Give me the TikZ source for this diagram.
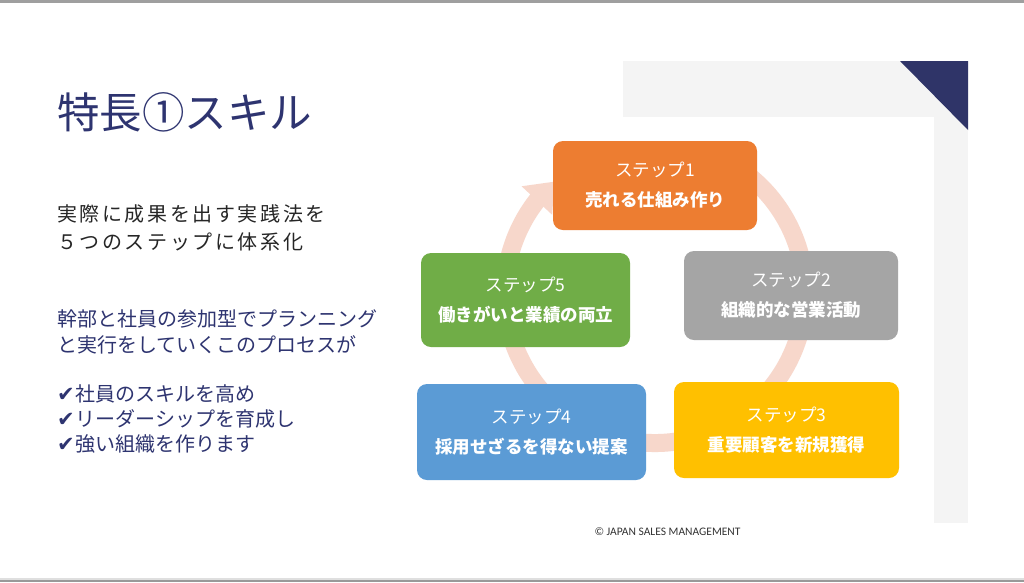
\documentclass[tikz,border=0pt]{standalone}
\usepackage{fontspec}
\usetikzlibrary{arrows.meta,bending,calc}
\newfontfamily\jp{Noto Sans CJK JP}
\newfontfamily\jpsp[LetterSpace=13]{Noto Sans CJK JP}
\newfontfamily\dejavu{DejaVu Sans}
\newfontfamily\carl{Carlito}
\definecolor{navy}{HTML}{2E3470}
\definecolor{darktxt}{HTML}{262626}
\definecolor{bandgray}{HTML}{F4F4F4}
\definecolor{cornernavy}{HTML}{2F3468}
\definecolor{arcpink}{HTML}{F7D7CB}
\definecolor{c1}{HTML}{ED7D31}
\definecolor{c2}{HTML}{A5A5A5}
\definecolor{c3}{HTML}{FFC000}
\definecolor{c4}{HTML}{5B9BD5}
\definecolor{c5}{HTML}{70AD47}
\tikzset{
  stepbox/.style={rounded corners=10pt, inner sep=0pt, text=white, align=center,
    font=\jp\fontsize{17.5}{30}\selectfont},
  bodyline/.style={anchor=base west, inner sep=0pt, font=\jp\fontsize{20}{24}\selectfont, text=navy},
  cyclearc/.style={draw=arcpink, line width=18pt,
    -{Triangle[width=40pt,length=26pt,color=arcpink]}}
}
\newcommand{\chk}{{\dejavu\fontsize{21}{22}\selectfont ✔}\hspace{1pt}}
\newcommand{\sline}[1]{{\bfseries #1}}
\begin{document}
\begin{tikzpicture}[x=1pt,y=-1pt]
\useasboundingbox (0,0) rectangle (1024,582);
\fill[white] (0,0) rectangle (1024,582);
% frame bars
\fill[gray!75] (0,0) rectangle (1024,3);
\fill[gray!25] (0,578) rectangle (1024,580);
\fill[gray!80] (0,580) rectangle (1024,582);
% light gray L band and corner triangle
\fill[bandgray] (623,61) rectangle (968,117);
\fill[bandgray] (934,61) rectangle (968,523);
\fill[cornernavy] (900,61) -- (968,61) -- (968,130) -- cycle;
% title and body text
\node (title) [anchor=base west, inner sep=0pt, text=navy, font=\jp\fontsize{42.5}{48}\selectfont] at (57,128) {特長①スキル};
\node (l1) [bodyline, text=darktxt, font=\jpsp\fontsize{20}{24}\selectfont] at (57,221.5) {実際に成果を出す実践法を};
\node (l2) [bodyline, text=darktxt, font=\jpsp\fontsize{20}{24}\selectfont] at (57,249.5) {５つのステップに体系化};
\node (p1) [bodyline] at (57,326.5) {幹部と社員の参加型でプランニング};
\node (p2) [bodyline] at (57,352.5) {と実行をしていくこのプロセスが};
\node (k1) [bodyline] at (57,401) {\chk 社員のスキルを高め};
\node (k2) [bodyline] at (57,426.5) {\chk リーダーシップを育成し};
\node (k3) [bodyline] at (57,451) {\chk 強い組織を作ります};
% cycle arc
\coordinate (cc) at (655,293);
\draw[cyclearc] ($(cc)+(-65:150)$) arc[start angle=-65, end angle=228, radius=150];
% step boxes
\node (s1) [stepbox, fill=c1, minimum width=204pt, minimum height=89pt] at (655,185.5) {ステップ1\\\sline{売れる仕組み作り}};
\node (s2) [stepbox, fill=c2, minimum width=214pt, minimum height=89pt] at (791,295.5) {ステップ2\\\sline{組織的な営業活動}};
\node (s3) [stepbox, fill=c3, minimum width=225pt, minimum height=96pt] at (786.5,430) {ステップ3\\\sline{重要顧客を新規獲得}};
\node (s4) [stepbox, fill=c4, minimum width=229pt, minimum height=96pt] at (531.5,432) {ステップ4\\\sline{採用せざるを得ない提案}};
\node (s5) [stepbox, fill=c5, minimum width=209pt, minimum height=94pt] at (525.5,300) {ステップ5\\\sline{働きがいと業績の両立}};
% copyright
\node (copy) [inner sep=0pt, text=black!80, font=\carl\fontsize{11.5}{13}\selectfont] at (667.5,532) {© JAPAN SALES MANAGEMENT};
\end{tikzpicture}
\end{document}
